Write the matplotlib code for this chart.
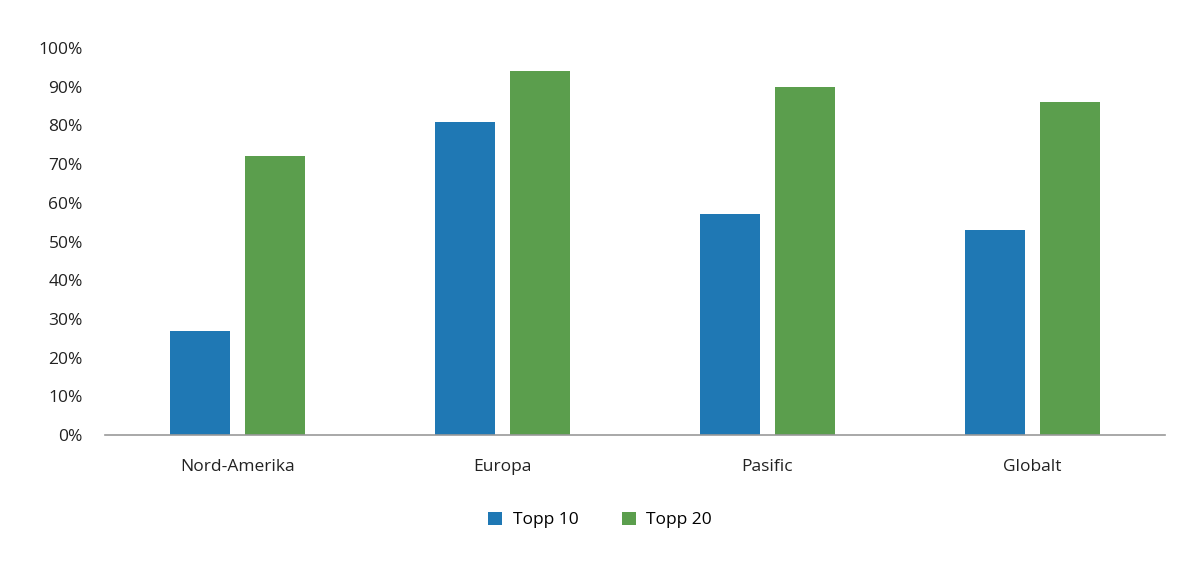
import matplotlib
matplotlib.use("Agg")
import matplotlib.pyplot as plt
import numpy as np

categories = ["Nord-Amerika", "Europa", "Pasific", "Globalt"]
topp10 = [27, 81, 57, 53]
topp20 = [72, 94, 90, 86]
yticks = [0, 10, 20, 30, 40, 50, 60, 70, 80, 90, 100]

plt.rcParams['font.family'] = ['Open Sans', 'DejaVu Sans']

fig = plt.figure(figsize=(12, 5.69), dpi=100)
ax = fig.add_axes([105/1200, 1 - 435/569, 1060/1200, (435 - 48)/569])

x = np.arange(len(categories))
w = 0.225
off = 0.142
b1 = ax.bar(x - off, topp10, width=w, color="#1f78b4", label="Topp 10")
b2 = ax.bar(x + off, topp20, width=w, color="#5b9e4d", label="Topp 20")

ax.set_xlim(-0.5, len(categories) - 0.5)
ax.set_ylim(0, 100)
ax.set_yticks(yticks)
ax.set_yticklabels([f"{v}%" for v in yticks], fontsize=12.5, color="#222222")
ax.set_xticks(x)
ax.set_xticklabels(categories, fontsize=12.5, color="#222222")
ax.tick_params(axis='y', length=0, pad=16)
ax.tick_params(axis='x', length=0, pad=17)
for s in ["top", "right", "left"]:
    ax.spines[s].set_visible(False)
ax.spines["bottom"].set_color("#999999")
ax.spines["bottom"].set_linewidth(1.2)

fig.legend(handles=[b1, b2], loc="center", bbox_to_anchor=(0.5, 1 - 520/569),
           ncol=2, frameon=False, fontsize=12.5, handlelength=0.8, handleheight=0.8,
           columnspacing=2.5, handletextpad=0.6)

fig.savefig("out.png", dpi=100, facecolor="white")
